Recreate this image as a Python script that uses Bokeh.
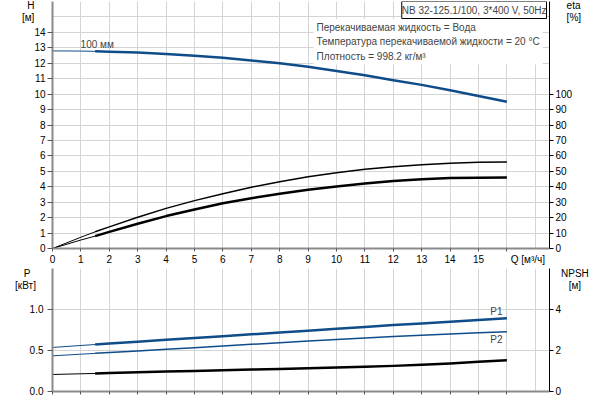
from bokeh.plotting import figure
from bokeh.models import Range1d, LinearAxis, FixedTicker, Label
from bokeh.layouts import column
from bokeh.embed import file_html
from bokeh.resources import INLINE

# ---------------- data ----------------
q_h = [0, 1, 1.5, 2, 3, 4, 5, 6, 7, 8, 9, 10, 11, 12, 13, 14, 15, 16]
head = [12.8, 12.79, 12.77, 12.75, 12.69, 12.6, 12.48, 12.35, 12.18, 12.0, 11.77, 11.5,
        11.22, 10.9, 10.6, 10.25, 9.88, 9.5]

q_eta = [0, 1, 1.5, 2, 3, 4, 5, 6, 7, 8, 9, 10, 11, 12, 13, 14, 15, 16]
eta_pump = [0, 7.3, 10.8, 14, 20.2, 26, 31, 35.5, 39.7, 43.3, 46.5, 49.1, 51.3, 53, 54.3, 55.2, 55.8, 56]
eta_total = [0, 5.5, 8, 10.8, 16, 21, 25.3, 29.3, 32.6, 35.5, 38, 40.1, 42.1, 43.8, 44.9, 45.6, 45.9, 46]

q_p = [0, 1, 1.5, 2, 3, 4, 5, 6, 7, 8, 9, 10, 11, 12, 13, 14, 15, 16]
p1 = [0.537, 0.561, 0.573, 0.585, 0.607, 0.63, 0.652, 0.675, 0.697, 0.72, 0.742, 0.765,
      0.788, 0.81, 0.83, 0.85, 0.872, 0.894]
p2 = [0.435, 0.455, 0.465, 0.475, 0.495, 0.515, 0.535, 0.555, 0.575, 0.595, 0.615, 0.635,
      0.653, 0.67, 0.685, 0.70, 0.715, 0.73]
npsh = [0.83, 0.865, 0.88, 0.9, 0.935, 0.97, 1.005, 1.04, 1.07, 1.1, 1.135, 1.17,
        1.21, 1.25, 1.31, 1.37, 1.45, 1.53]

q_ticks = list(range(0, 16))
h_ticks = list(range(0, 15))
eta_ticks = list(range(0, 101, 10))
p_ticks = [0, 0.5, 1.0]
p_tick_labels = ["0.0", "0.5", "1.0"]
npsh_ticks = [0, 2, 4]

title_text = "NB 32-125.1/100, 3*400 V, 50Hz"
info_text = ("Перекачиваемая жидкость = Вода\n"
             "Температура перекачиваемой жидкости = 20 °C\n"
             "Плотность = 998.2 кг/м³")
curve_label = "100 мм"
q_title = "Q [м³/ч]"
h_title = ["H", "[м]"]
eta_title = ["eta", "[%]"]
p_title = ["P", "[кВт]"]
npsh_title = ["NPSH", "[м]"]

# ---------------- style ----------------
FONT = "Liberation Sans"
FS = "10px"
BLUE = "#0f4c8a"
GRID = "#d4d4d4"
AXG = "#8a8a8a"
SPLIT = 1.5
FSP = "\u2007"   # figure space, used to nudge the axis titles sideways
TSP = "\u2009"   # thin space

def split(xs, ys):
    i = xs.index(SPLIT)
    return (xs[:i + 1], ys[:i + 1]), (xs[i:], ys[i:])

def setup_axis(ax, ticks, labels, minor, line_color, line_width, tick_color, tick_out, standoff):
    ax.ticker = FixedTicker(ticks=ticks, minor_ticks=minor)
    ax.major_label_overrides = {t: s for t, s in zip(ticks, labels)}
    ax.axis_line_color = line_color
    ax.axis_line_width = line_width
    ax.major_tick_line_color = None
    ax.major_tick_out = tick_out
    ax.major_tick_in = 0
    ax.minor_tick_line_color = tick_color
    ax.minor_tick_out = tick_out
    ax.minor_tick_in = 0
    ax.major_label_text_font = FONT
    ax.major_label_text_font_size = FS
    ax.major_label_text_color = "black"
    ax.major_label_standoff = standoff

def lab(p, x, y, text, align="center", baseline="middle", **kw):
    p.add_layout(Label(x=x, y=y, text=text, text_font=FONT, text_font_size=FS,
                       text_align=align, text_baseline=baseline, **kw))

# ---------------- top figure ----------------
top = figure(width=600, height=267, x_range=Range1d(0, 17.5), y_range=Range1d(0, 16),
             output_backend="svg", toolbar_location=None,
             min_border_left=52, min_border_right=51, min_border_top=1, min_border_bottom=18)
top.outline_line_color = None

setup_axis(top.xaxis[0], q_ticks + [16.74], [str(t) for t in q_ticks] + [q_title],
           list(range(0, 17)), AXG, 2, "#555555", 3, 2)
setup_axis(top.yaxis[0], h_ticks + [15.74, 14.97],
           [str(t) for t in h_ticks] + [h_title[0] + FSP * 2, h_title[1] + FSP * 2],
           h_ticks, AXG, 2, "#555555", 5, 2)
top.xgrid.ticker = FixedTicker(ticks=list(range(1, 18)))
top.ygrid.ticker = FixedTicker(ticks=list(range(1, 16)))
top.xgrid.grid_line_color = GRID
top.ygrid.grid_line_color = GRID

top.extra_y_ranges = {"eta": Range1d(0, 160)}
eta_axis = LinearAxis(y_range_name="eta")
setup_axis(eta_axis, eta_ticks + [157.4, 149.7],
           [str(t) for t in eta_ticks] + [FSP * 2 + eta_title[0], FSP * 2 + eta_title[1]],
           eta_ticks, "black", 1, "black", 4, 2)
top.add_layout(eta_axis, "right")

(a, b) = split(q_h, head)
top.line(a[0], a[1], line_color=BLUE, line_width=1)
top.line(b[0], b[1], line_color=BLUE, line_width=2.5, line_join="round")
(a, b) = split(q_eta, eta_pump)
top.line(a[0], a[1], line_color="black", line_width=1, y_range_name="eta")
top.line(b[0], b[1], line_color="black", line_width=1.5, line_join="round", y_range_name="eta")
(a, b) = split(q_eta, eta_total)
top.line(a[0], a[1], line_color="black", line_width=1, y_range_name="eta")
top.line(b[0], b[1], line_color="black", line_width=2.5, line_join="round", y_range_name="eta")

lab(top, 0.99, 13.2, curve_label, align="left")
lab(top, 17.5, 16.0, title_text, align="right", baseline="top",
    border_line_color="black", background_fill_color="white", padding=(0, 3), x_offset=-3)
lab(top, 9.19, 14.87, info_text, align="left", baseline="top",
    background_fill_color="white", padding=3, text_line_height=1.3)

# ---------------- bottom figure ----------------
bot = figure(width=600, height=131, x_range=top.x_range, y_range=Range1d(0, 1.5),
             output_backend="svg", toolbar_location=None,
             min_border_left=52, min_border_right=51, min_border_top=1, min_border_bottom=7)
bot.outline_line_color = None

setup_axis(bot.xaxis[0], [], [], list(range(0, 17)), AXG, 2, "#555555", 3, 2)
setup_axis(bot.yaxis[0], p_ticks + [1.439, 1.293],
           p_tick_labels + [p_title[0] + FSP * 2 + TSP, p_title[1] + FSP + TSP],
           p_ticks, AXG, 2, "#555555", 5, 4)
bot.xgrid.ticker = FixedTicker(ticks=list(range(1, 18)))
bot.ygrid.ticker = FixedTicker(ticks=[0.5, 1.0, 1.5])
bot.xgrid.grid_line_color = GRID
bot.ygrid.grid_line_color = GRID

bot.extra_y_ranges = {"npsh": Range1d(0, 6)}
npsh_axis = LinearAxis(y_range_name="npsh")
setup_axis(npsh_axis, npsh_ticks + [5.76, 5.15],
           [str(t) for t in npsh_ticks] + [FSP + npsh_title[0], FSP * 2 + TSP + npsh_title[1]],
           npsh_ticks, "black", 1, "black", 4, 2)
bot.add_layout(npsh_axis, "right")

(a, b) = split(q_p, p1)
bot.line(a[0], a[1], line_color=BLUE, line_width=1)
bot.line(b[0], b[1], line_color=BLUE, line_width=2.5, line_join="round")
(a, b) = split(q_p, p2)
bot.line(a[0], a[1], line_color=BLUE, line_width=1)
bot.line(b[0], b[1], line_color=BLUE, line_width=1.5, line_join="round")
(a, b) = split(q_p, npsh)
bot.line(a[0], a[1], line_color="black", line_width=1, y_range_name="npsh")
bot.line(b[0], b[1], line_color="black", line_width=2.5, line_join="round", y_range_name="npsh")

lab(bot, 15.63, 0.976, "P1")
lab(bot, 15.63, 0.634, "P2")

layout = column(top, bot)
open("out.html", "w").write(file_html(layout, INLINE))
